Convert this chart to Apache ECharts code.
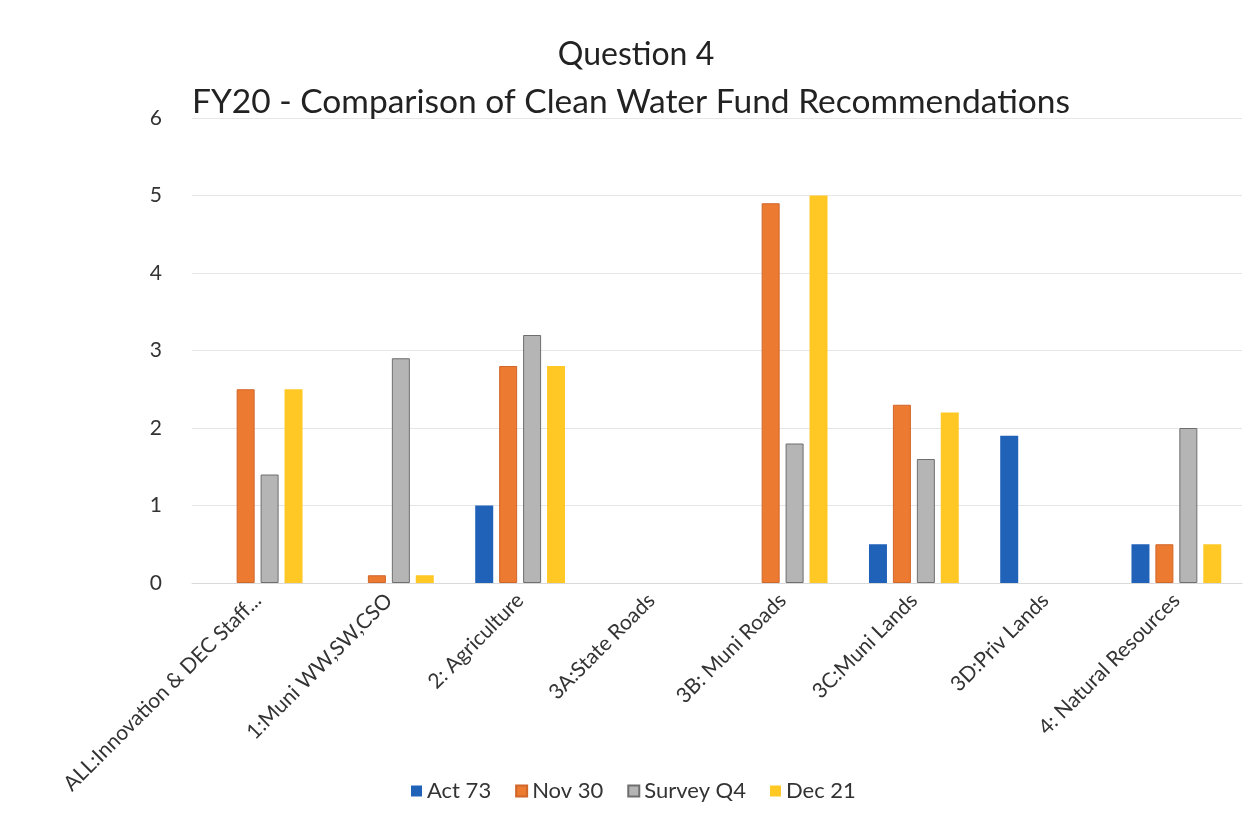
<!DOCTYPE html>
<html>
<head>
<meta charset="utf-8">
<script src="https://cdn.jsdelivr.net/npm/echarts@6/dist/echarts.min.js"></script>
<style>
  html, body { margin: 0; padding: 0; background: #fff; }
  #main { width: 1247px; height: 829px; }
</style>
</head>
<body>
<div id="main"></div>
<script>
  // categories and values
  const categories = [
    "ALL:Innovation & DEC Staff...",
    "1:Muni WW,SW,CSO",
    "2: Agriculture",
    "3A:State Roads",
    "3B: Muni Roads",
    "3C:Muni Lands",
    "3D:Priv Lands",
    "4: Natural Resources"
  ];
  const act73 = [0, 0, 1.0, 0, 0, 0.5, 1.9, 0.5];
  const nov30 = [2.5, 0.1, 2.8, 0, 4.9, 2.3, 0, 0.5];
  const surveyQ4 = [1.4, 2.9, 3.2, 0, 1.8, 1.6, 0, 2.0];
  const dec21 = [2.5, 0.1, 2.8, 0, 5.0, 2.2, 0, 0.5];
  const yTicks = [0, 1, 2, 3, 4, 5, 6];

  const font = "Lato, 'Open Sans', sans-serif";

  function barSeries(name, data, color, border) {
    return {
      name: name,
      type: "bar",
      // zero bars get no outline so they stay invisible
      data: data.map(v => v === 0 ? { value: v, itemStyle: { borderWidth: 0 } } : v),
      barWidth: 18,
      barGap: "33%",
      itemStyle: {
        color: color,
        borderColor: border || color,
        borderWidth: border ? 1 : 0
      }
    };
  }

  const chart = echarts.init(document.getElementById("main"));
  chart.setOption({
    backgroundColor: "#fff",
    animation: false,
    title: [
      {
        text: "Question 4",
        left: 631,
        textAlign: "center",
        top: 34,
        textStyle: { fontFamily: font, fontWeight: "normal", fontSize: 32, color: "#222" }
      },
      {
        text: "FY20 - Comparison of Clean Water Fund Recommendations",
        left: 626,
        textAlign: "center",
        top: 80,
        textStyle: { fontFamily: font, fontWeight: "normal", fontSize: 33.5, color: "#222" }
      }
    ],
    legend: {
      bottom: 22,
      left: 406,
      itemWidth: 11,
      itemHeight: 11,
      itemGap: 24,
      icon: "rect",
      textStyle: { fontFamily: font, fontSize: 22, color: "#333" },
      data: ["Act 73", "Nov 30", "Survey Q4", "Dec 21"]
    },
    grid: { left: 192, right: 5, top: 118, bottom: 246, containLabel: false },
    xAxis: {
      type: "category",
      data: categories,
      axisTick: { show: false },
      axisLine: { lineStyle: { color: "#d9d9d9" } },
      axisLabel: {
        rotate: 45,
        interval: 0,
        margin: 14,
        fontFamily: font,
        fontSize: 21,
        color: "#333"
      }
    },
    yAxis: {
      type: "value",
      min: yTicks[0],
      max: yTicks[yTicks.length - 1],
      interval: 1,
      axisLine: { show: false },
      axisTick: { show: false },
      splitLine: { lineStyle: { color: "#e6e6e6" } },
      axisLabel: { fontFamily: font, fontSize: 21, color: "#333", margin: 30 }
    },
    series: [
      barSeries("Act 73", act73, "#1f62b8"),
      barSeries("Nov 30", nov30, "#ec7a30", "#d0662a"),
      barSeries("Survey Q4", surveyQ4, "#b5b5b5", "#6e6e6e"),
      barSeries("Dec 21", dec21, "#ffc825")
    ]
  });
</script>
</body>
</html>
